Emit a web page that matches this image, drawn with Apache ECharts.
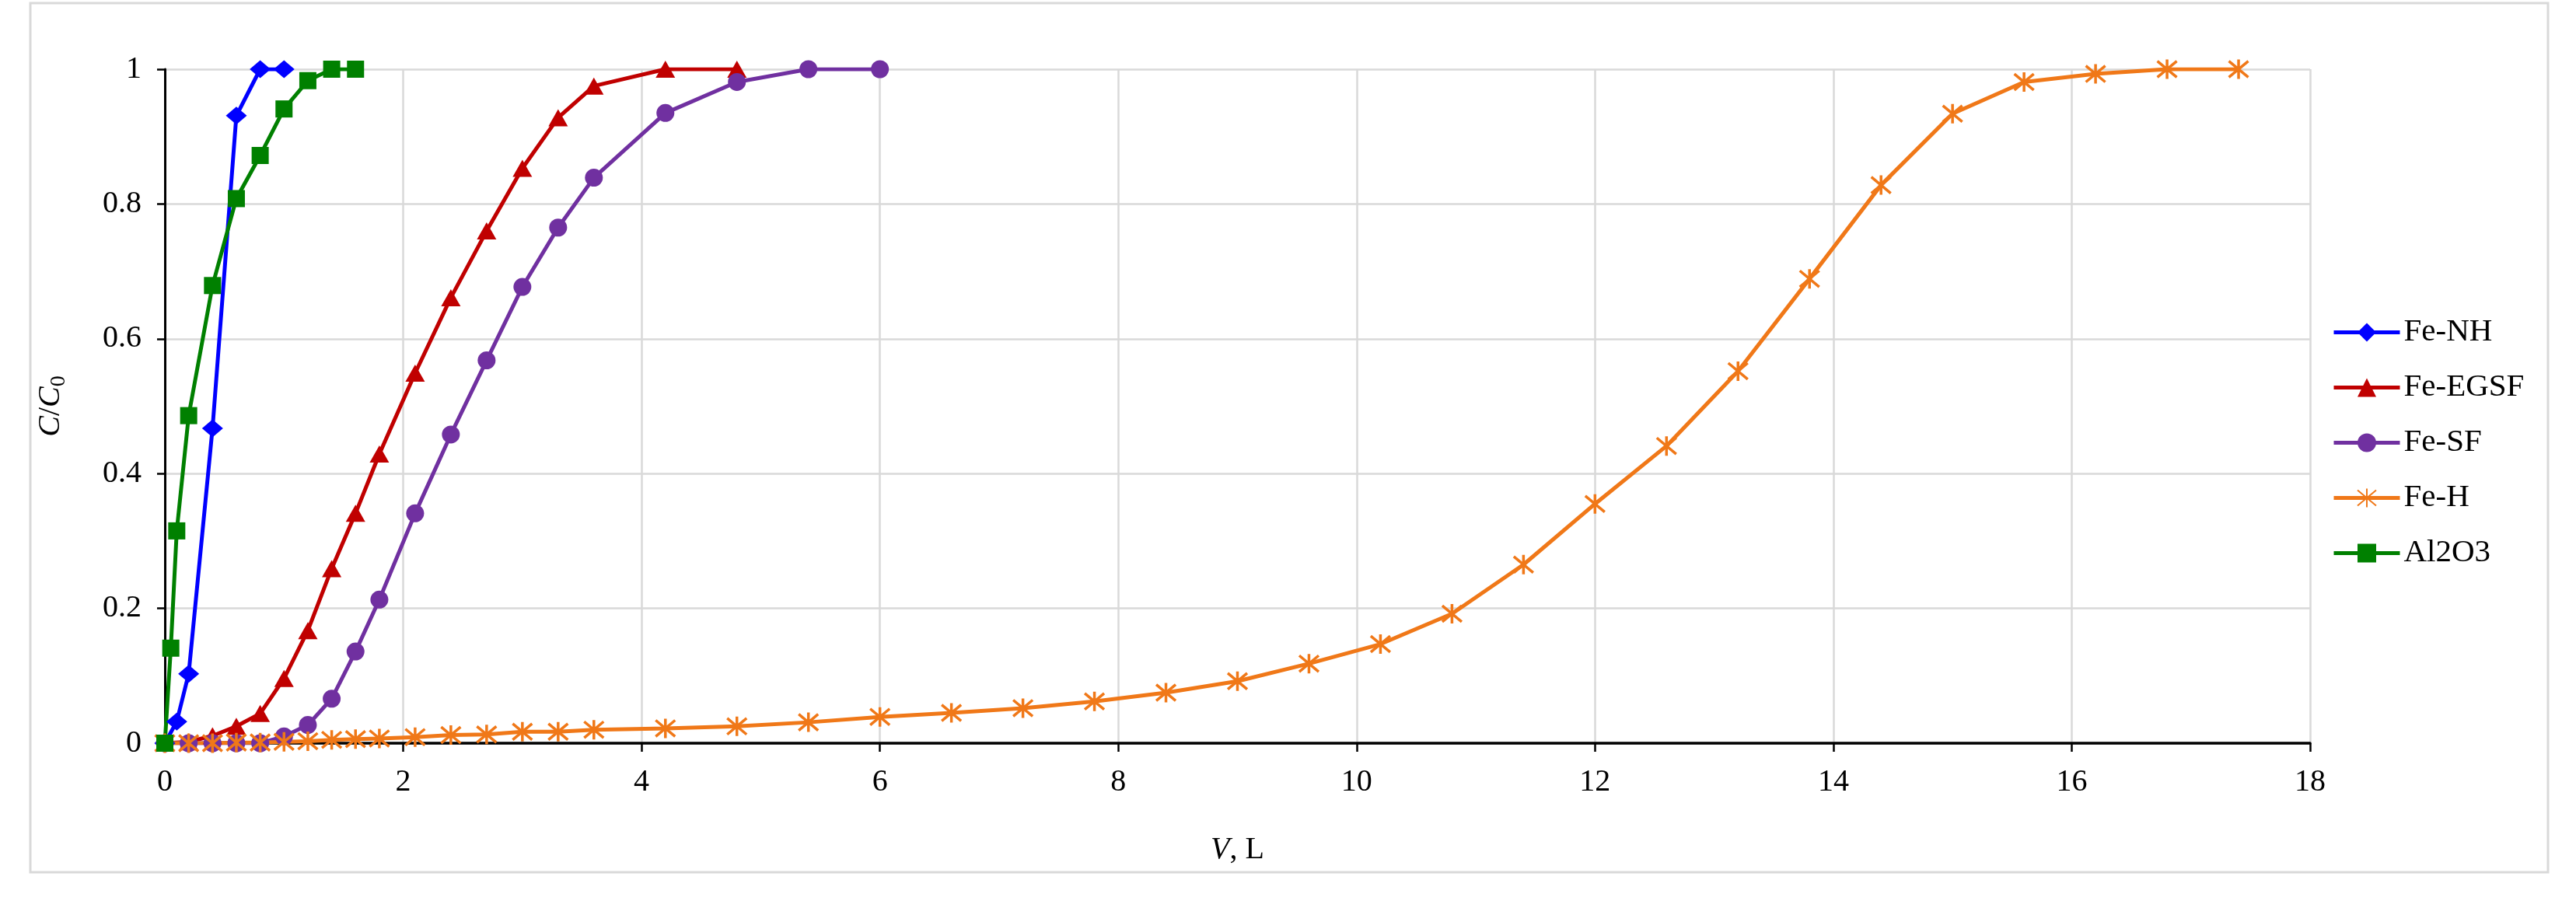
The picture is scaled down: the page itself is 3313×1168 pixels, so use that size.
<!DOCTYPE html>
<html>
<head>
<meta charset="utf-8">
<script src="https://cdn.jsdelivr.net/npm/echarts@6/dist/echarts.min.js"></script>
<style>
html,body{margin:0;padding:0;background:#fff;}
#chart{width:3313px;height:1168px;}
</style>
</head>
<body>
<div id="chart"></div>
<script>
// ---- data ----
var seriesNames = ['Fe-NH', 'Fe-EGSF', 'Fe-SF', 'Fe-H', 'Al2O3'];

var xFeNH = [0, 0.1, 0.2, 0.4, 0.6, 0.8, 1.0];
var yFeNH = [0, 0.032, 0.103, 0.467, 0.931, 1.0, 1.0];

var xFeEGSF = [0, 0.2, 0.4, 0.6, 0.8, 1.0, 1.2, 1.4, 1.6, 1.8, 2.1, 2.4, 2.7, 3.0, 3.3, 3.6, 4.2, 4.8];
var yFeEGSF = [0, 0.002, 0.011, 0.025, 0.044, 0.096, 0.167, 0.259, 0.341, 0.429, 0.549, 0.661, 0.760, 0.853, 0.928, 0.975, 1.0, 1.0];

var xFeSF = [0, 0.2, 0.4, 0.6, 0.8, 1.0, 1.2, 1.4, 1.6, 1.8, 2.1, 2.4, 2.7, 3.0, 3.3, 3.6, 4.2, 4.8, 5.4, 6.0];
var yFeSF = [0, 0, 0, 0, 0, 0.010, 0.027, 0.066, 0.136, 0.213, 0.341, 0.458, 0.568, 0.677, 0.765, 0.839, 0.935, 0.981, 1.0, 1.0];

var xFeH = [0, 0.2, 0.4, 0.6, 0.8, 1.0, 1.2, 1.4, 1.6, 1.8, 2.1, 2.4, 2.7, 3.0, 3.3, 3.6, 4.2, 4.8, 5.4, 6.0, 6.6, 7.2, 7.8, 8.4, 9.0, 9.6, 10.2, 10.8, 11.4, 12.0, 12.6, 13.2, 13.8, 14.4, 15.0, 15.6, 16.2, 16.8, 17.4];
var yFeH = [0, 0, 0, 0.001, 0.001, 0.002, 0.003, 0.005, 0.006, 0.007, 0.009, 0.012, 0.013, 0.017, 0.017, 0.020, 0.022, 0.025, 0.031, 0.039, 0.045, 0.052, 0.062, 0.075, 0.092, 0.118, 0.147, 0.192, 0.265, 0.355, 0.441, 0.552, 0.689, 0.828, 0.934, 0.981, 0.993, 1.0, 1.0];

var xAl2O3 = [0, 0.05, 0.1, 0.2, 0.4, 0.6, 0.8, 1.0, 1.2, 1.4, 1.6];
var yAl2O3 = [0, 0.141, 0.315, 0.486, 0.679, 0.808, 0.872, 0.941, 0.983, 1.0, 1.0];

var xTicks = [0, 2, 4, 6, 8, 10, 12, 14, 16, 18];
var yTicks = [0, 0.2, 0.4, 0.6, 0.8, 1];

function pairs(xs, ys) { return xs.map(function (x, i) { return [x, ys[i]]; }); }

var FONT = '"Liberation Serif", "Times New Roman", serif';
var asterisk = 'path://M0,0 L10,10 M10,0 L0,10 M5,-1 L5,11';
var LW = 5;

var chart = echarts.init(document.getElementById('chart'), null, {renderer: 'canvas'});

function lineSeries(name, data, color, symbol, size, extraItem) {
  var item = {color: color};
  if (extraItem) { for (var k in extraItem) item[k] = extraItem[k]; }
  return {
    name: name,
    type: 'line',
    data: data,
    symbol: symbol,
    symbolSize: size,
    showAllSymbol: true,
    lineStyle: {color: color, width: LW},
    itemStyle: item,
    emphasis: {disabled: true}
  };
}

var option = {
  animation: false,
  backgroundColor: '#ffffff',
  graphic: [{
    type: 'rect',
    shape: {x: 39, y: 4, width: 3238, height: 1118},
    style: {fill: 'none', stroke: '#d9d9d9', lineWidth: 3},
    z: -10
  }],
  grid: {left: 212, right: 342, top: 89, bottom: 212, containLabel: false},
  legend: {
    orient: 'vertical',
    left: 2994,
    top: 402,
    itemWidth: 85,
    itemHeight: 30,
    itemGap: 30,
    lineStyle: {width: LW},
    textStyle: {fontFamily: FONT, fontSize: 41, color: '#000', padding: [0, 0, 0, 0]},
    data: seriesNames
  },
  xAxis: {
    type: 'value',
    min: xTicks[0],
    max: xTicks[xTicks.length - 1],
    interval: 2,
    name: '{i|V}, L',
    nameLocation: 'middle',
    nameGap: 117,
    nameTextStyle: {
      fontFamily: FONT, fontSize: 40, color: '#000',
      rich: {i: {fontFamily: FONT, fontSize: 40, fontStyle: 'italic', color: '#000'}}
    },
    axisLine: {show: true, onZero: false, lineStyle: {color: '#000', width: 3.5}},
    axisTick: {show: true, length: 11, lineStyle: {color: '#000', width: 2.5}},
    axisLabel: {fontFamily: FONT, fontSize: 40, color: '#000', margin: 30},
    splitLine: {show: true, lineStyle: {color: '#d9d9d9', width: 2.5}}
  },
  yAxis: {
    type: 'value',
    min: yTicks[0],
    max: yTicks[yTicks.length - 1],
    interval: 0.2,
    name: '{i|C}/{i|C}{s|0}',
    nameLocation: 'middle',
    nameGap: 122,
    nameTextStyle: {
      fontFamily: FONT, fontSize: 40, color: '#000',
      rich: {
        i: {fontFamily: FONT, fontSize: 40, fontStyle: 'italic', color: '#000', lineHeight: 50, verticalAlign: 'middle'},
        s: {fontFamily: FONT, fontSize: 28, color: '#000', lineHeight: 50, verticalAlign: 'bottom'}
      }
    },
    axisLine: {show: true, onZero: false, lineStyle: {color: '#000', width: 3}},
    axisTick: {show: true, length: 10, lineStyle: {color: '#000', width: 2.5}},
    axisLabel: {fontFamily: FONT, fontSize: 40, color: '#000', margin: 30},
    splitLine: {show: true, lineStyle: {color: '#d9d9d9', width: 2.5}}
  },
  series: [
    lineSeries('Fe-NH', pairs(xFeNH, yFeNH), '#0000FF', 'diamond', [27, 23]),
    lineSeries('Fe-EGSF', pairs(xFeEGSF, yFeEGSF), '#C00000', 'triangle', [25, 22]),
    lineSeries('Fe-SF', pairs(xFeSF, yFeSF), '#7030A0', 'circle', 23),
    lineSeries('Fe-H', pairs(xFeH, yFeH), '#F07818', asterisk, 25, {borderColor: '#F07818', borderWidth: 3.5}),
    lineSeries('Al2O3', pairs(xAl2O3, yAl2O3), '#008000', 'rect', 22)
  ]
};
chart.setOption(option);
</script>
</body>
</html>
